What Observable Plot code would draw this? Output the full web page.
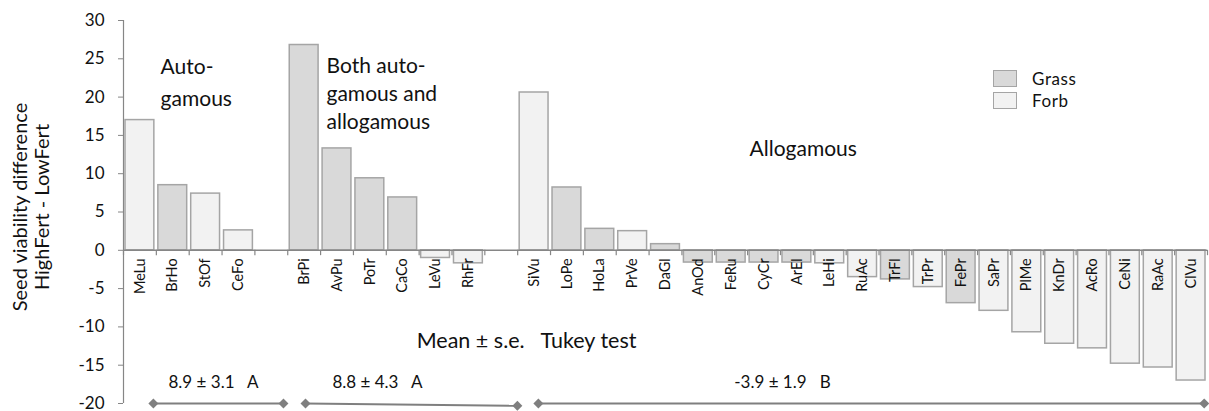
<!DOCTYPE html>
<html>
<head>
<meta charset="utf-8">
<script src="https://cdn.jsdelivr.net/npm/d3@7"></script>
<script src="https://cdn.jsdelivr.net/npm/@observablehq/plot@0.6"></script>
<style>
  html, body { margin: 0; padding: 0; background: #fff; }
  #wrap { position: relative; width: 1209px; height: 411px; font-family: Lato, "Open Sans", sans-serif; }
  #legend { position: absolute; left: 993px; top: 67px; font-size: 17px; letter-spacing: 0.6px; color: #111; }
  #legend .row { display: flex; align-items: center; height: 22px; }
  #legend .sw { width: 24px; height: 17px; border: 1.5px solid #a5a5a5; box-sizing: border-box; margin-right: 15px; }
</style>
</head>
<body>
<div id="wrap"><div id="legend"></div></div>
<script>
// Species codes, in plotting order, grouped by breeding system
const species = ["MeLu","BrHo","StOf","CeFo",
  "BrPi","AvPu","PoTr","CaCo","LeVu","RhFr",
  "SiVu","LoPe","HoLa","PrVe","DaGl","AnOd","FeRu","CyCr","ArEl","LeHi","RuAc",
  "TrFl","TrPr","FePr","SaPr","PlMe","KnDr","AcRo","CeNi","RaAc","ClVu"];
// Seed viability difference (HighFert - LowFert)
const diffs = [17.0, 8.5, 7.4, 2.6,
  26.8, 13.3, 9.4, 6.9, -1.0, -1.7,
  20.6, 8.2, 2.8, 2.5, 0.8, -1.6, -1.6, -1.6, -1.6, -1.7, -3.5,
  -3.8, -4.8, -6.9, -7.9, -10.7, -12.2, -12.8, -14.8, -15.3, -17.0];
const lifeForm = ["Forb","Grass","Forb","Forb",
  "Grass","Grass","Grass","Grass","Forb","Forb",
  "Forb","Grass","Grass","Forb","Grass","Grass","Grass","Grass","Grass","Forb","Forb",
  "Grass","Forb","Grass","Forb","Forb","Forb","Forb","Forb","Forb","Forb"];
const groupOf = [0,0,0,0, 1,1,1,1,1,1,
  2,2,2,2,2,2,2,2,2,2,2,2,2,2,2,2,2,2,2,2,2];

// Group summaries (mean ± s.e., Tukey letter), bracket spans and label positions in slot units
const groupLabels = ["8.9 ± 3.1   A", "8.8 ± 4.3   A", "-3.9 ± 1.9   B"];
const bracketStart = [0.91, 5.54, 12.63];
const bracketEnd = [4.87, 11.99, 32.9];
const bracketEndY = [-20, -20.3, -20];
const groupLabelX = [2.74, 7.73, 20.06];

const yTicks = [30, 25, 20, 15, 10, 5, 0, -5, -10, -15, -20];
const legendKeys = ["Grass", "Forb"];
const legendFill = {Grass: "#d9d9d9", Forb: "#f2f2f2"};

// One empty slot separates consecutive groups
const bars = species.map((s, i) => ({
  name: s, value: diffs[i], type: lifeForm[i], slot: i + groupOf[i]
}));
const nSlots = species.length + 2;
const slotEdges = d3.range(0, nSlots + 1);

const brackets = groupLabels.map((label, g) => ({
  label, x1: bracketStart[g], x2: bracketEnd[g], y2: bracketEndY[g], lx: groupLabelX[g]
}));
const bracketEnds = brackets.flatMap(b => [{x: b.x1, y: -20}, {x: b.x2, y: b.y2}]);

const axisGray = "#868686";
const font = "Lato, 'Open Sans', sans-serif";

const chart = Plot.plot({
  width: 1209,
  height: 411,
  marginLeft: 123,
  marginRight: 2,
  marginTop: 20,
  marginBottom: 8,
  style: {fontFamily: font, color: "#111", background: "#fff", overflow: "visible"},
  x: {type: "linear", domain: [0, nSlots], axis: null},
  y: {domain: [-20, 30], axis: null},
  color: {domain: legendKeys, range: legendKeys.map(k => legendFill[k])},
  marks: [
    // y axis line with outward ticks
    Plot.ruleX([0], {y1: -20, y2: 30, stroke: axisGray, strokeWidth: 1.2}),
    Plot.axisY({ticks: yTicks, tickSize: 5, tickPadding: 14, stroke: axisGray, fontSize: 17, label: null,
      tickFormat: d => String(d), color: "#111"}),
    // bars
    Plot.rectY(bars, {x1: d => d.slot, x2: d => d.slot + 1, y: "value", fill: "type",
      stroke: "#a5a5a5", strokeWidth: 1.5, insetLeft: 2, insetRight: 2}),
    // category axis along zero with boundary ticks
    Plot.ruleY([0], {stroke: axisGray, strokeWidth: 1.5}),
    Plot.ruleX(slotEdges, {x: d => d, y1: 0, y2: -0.7, stroke: axisGray, strokeWidth: 1.2}),
    Plot.text(bars, {x: d => d.slot + 0.5, y: 0, text: "name", rotate: -90, textAnchor: "end",
      dy: 8, fontSize: 14.5, fill: "#111"}),
    // breeding-system titles
    Plot.text(["Auto-", "gamous"], {x: 1.13, y: (d, i) => 23.9 - i * 4.2, text: d => d, textAnchor: "start", fontSize: 21}),
    Plot.text(["Both auto-", "gamous and", "allogamous"], {x: 6.18, y: (d, i) => 24.0 - i * 3.65, text: d => d, textAnchor: "start", fontSize: 21}),
    Plot.text(["Allogamous"], {x: 19.06, y: 13.2, text: d => d, textAnchor: "start", fontSize: 21}),
    Plot.text(["Mean ± s.e.   Tukey test"], {x: 12.27, y: -11.8, text: d => d, fontSize: 21.5}),
    // group brackets with summary statistics
    Plot.link(brackets, {x1: "x1", x2: "x2", y1: -20, y2: "y2", stroke: "#7f7f7f", strokeWidth: 2}),
    Plot.dot(bracketEnds, {x: "x", y: "y", symbol: "diamond2", r: 4.5, fill: "#7f7f7f", stroke: "none"}),
    Plot.text(brackets, {x: "lx", y: -17.2, text: "label", fontSize: 17}),
    // two-line y axis title, left of the tick labels
    Plot.text(["Seed viability difference"], {frameAnchor: "left", textAnchor: "middle", text: d => d, rotate: -90, dx: -103, dy: -5, fontSize: 20}),
    Plot.text(["HighFert - LowFert"], {frameAnchor: "left", textAnchor: "middle", text: d => d, rotate: -90, dx: -81, dy: -5, fontSize: 20})
  ]
});

const wrap = document.getElementById("wrap");
wrap.insertBefore(chart, wrap.firstChild);

const legend = document.getElementById("legend");
for (const k of legendKeys) {
  const row = document.createElement("div");
  row.className = "row";
  const sw = document.createElement("div");
  sw.className = "sw";
  sw.style.background = legendFill[k];
  const lab = document.createElement("span");
  lab.textContent = k;
  row.appendChild(sw);
  row.appendChild(lab);
  legend.appendChild(row);
}
</script>
</body>
</html>
